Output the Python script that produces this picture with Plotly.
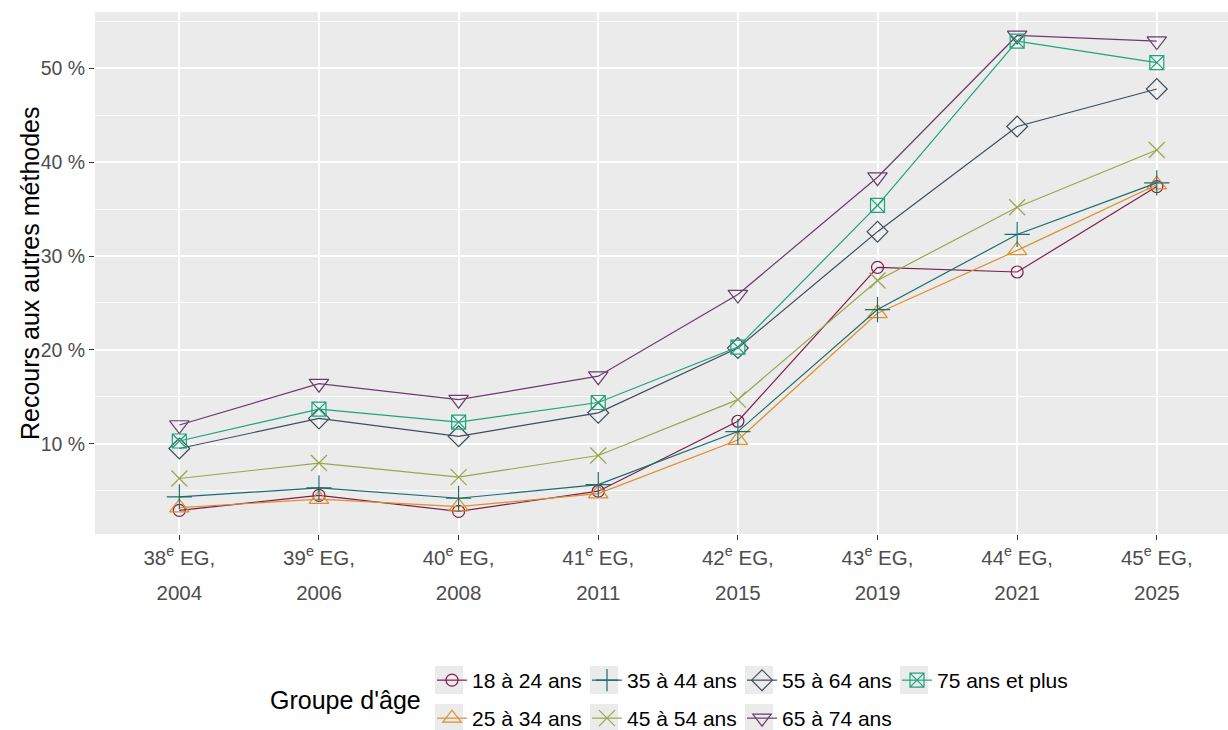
import plotly.graph_objects as go

# ---------------- data ----------------
waves = ["38<sup>e</sup> EG,", "39<sup>e</sup> EG,", "40<sup>e</sup> EG,", "41<sup>e</sup> EG,",
         "42<sup>e</sup> EG,", "43<sup>e</sup> EG,", "44<sup>e</sup> EG,", "45<sup>e</sup> EG,"]
years = ["2004", "2006", "2008", "2011", "2015", "2019", "2021", "2025"]

g18_24 = [2.9, 4.5, 2.8, 4.95, 12.4, 28.8, 28.3, 37.4]
g25_34 = [3.2, 4.1, 3.3, 4.7, 10.4, 23.9, 30.6, 37.6]
g35_44 = [4.35, 5.3, 4.2, 5.65, 11.3, 24.3, 32.3, 37.8]
g45_54 = [6.3, 7.95, 6.45, 8.75, 14.7, 27.4, 35.2, 41.3]
g55_64 = [9.5, 12.7, 10.8, 13.3, 20.2, 32.6, 43.8, 47.8]
g65_74 = [12.0, 16.4, 14.7, 17.2, 25.9, 38.4, 53.5, 52.9]
g75p = [10.3, 13.7, 12.3, 14.4, 20.3, 35.4, 52.9, 50.6]

names = ["18 à 24 ans", "25 à 34 ans", "35 à 44 ans", "45 à 54 ans",
         "55 à 64 ans", "65 à 74 ans", "75 ans et plus"]
series = [g18_24, g25_34, g35_44, g45_54, g55_64, g65_74, g75p]
colors = ["#7D1D4C", "#DB8F2E", "#1A6D6C", "#9AA64C", "#3D4D5C", "#6C3B6D", "#1CA47A"]
symbols = ["circle-open", "triangle-up-open", "cross-thin-open", "x-thin-open",
           "diamond-open", "triangle-down-open", "square-x-open"]
sizes = [12, 17, 18, 16, 16, 17, 14]
legend_row = ["legend", "legend2", "legend", "legend2", "legend", "legend2", "legend3"]

xpos = list(range(len(years)))

fig = go.Figure()
for name, vals, col, sym, sz, lg in zip(names, series, colors, symbols, sizes, legend_row):
    fig.add_trace(go.Scatter(
        x=xpos, y=vals, name=name, mode="lines+markers",
        line=dict(color=col, width=1.2),
        marker=dict(symbol=sym, size=sz, color=col, line=dict(color=col, width=1.2)),
        legend=lg,
    ))

# empty helper trace so the second (year) label axis is drawn
fig.add_trace(go.Scatter(x=xpos, y=[None] * len(xpos), xaxis="x2", yaxis="y",
                         showlegend=False, hoverinfo="skip", mode="lines"))

W, H = 1228, 730
ml, mr, mt, mb = 95, 0, 12, 196
pw, ph = W - ml - mr, H - mt - mb


def px_x(p):
    return (p - ml) / pw


def px_y(p):
    return (mt + ph - p) / ph


FONT = "Liberation Sans, Arial, sans-serif"
xaxis_font = dict(family=FONT, size=20.5, color="#4D4D4D")
yaxis_font = dict(family=FONT, size=19.5, color="#4D4D4D")
legend_font = dict(family=FONT, size=21, color="black")

# grey legend key backgrounds (ggplot style)
col_step = 155
key_x0 = 449
key_shapes = []
for row_c, n_items in ((680, 4), (718, 3)):
    for k in range(n_items):
        cx = key_x0 + k * col_step
        key_shapes.append(dict(
            type="rect", xref="paper", yref="paper",
            x0=px_x(cx - 14), x1=px_x(cx + 14),
            y0=px_y(row_c + 14), y1=px_y(row_c - 14),
            fillcolor="#EBEBEB", line=dict(width=0), layer="below",
        ))


def legend_box(x_left, top):
    return dict(
        orientation="h", x=px_x(x_left), xanchor="left",
        y=px_y(top), yanchor="top",
        entrywidth=col_step - 45, entrywidthmode="pixels",
        font=legend_font, bgcolor="rgba(0,0,0,0)",
        traceorder="normal", itemwidth=30,
    )


leg3 = legend_box(key_x0 + 3 * col_step - 17, 660)
leg3["entrywidth"] = 0

fig.update_layout(
    width=W, height=H,
    margin=dict(l=ml, r=mr, t=mt, b=mb, autoexpand=False),
    paper_bgcolor="white",
    plot_bgcolor="#EBEBEB",
    font=dict(family=FONT, color="black"),
    xaxis=dict(
        range=[-0.604, 7.51], tickmode="array", tickvals=xpos, ticktext=waves,
        showgrid=True, gridcolor="white", gridwidth=2, zeroline=False,
        ticks="outside", ticklen=5, tickcolor="#333333", tickwidth=1,
        tickfont=xaxis_font, showline=False,
    ),
    xaxis2=dict(
        range=[-0.604, 7.51], tickmode="array", tickvals=xpos, ticktext=years,
        overlaying="x", anchor="y", side="bottom",
        showgrid=False, zeroline=False, ticks="", showline=False,
        tickfont=xaxis_font, ticklabelstandoff=44,
    ),
    yaxis=dict(
        range=[0.39, 56.0], tick0=0, dtick=10, ticksuffix=" %",
        showgrid=True, gridcolor="white", gridwidth=2, zeroline=False,
        ticks="outside", ticklen=5, tickcolor="#333333", tickwidth=1,
        tickfont=yaxis_font,
        minor=dict(tick0=0, dtick=5, showgrid=True, gridcolor="white", gridwidth=1, ticks=""),
    ),
    legend=legend_box(key_x0 - 17, 660),
    legend2=legend_box(key_x0 - 17, 698),
    legend3=leg3,
    shapes=key_shapes,
    annotations=[
        dict(text="Groupe d'âge", xref="paper", yref="paper",
             x=px_x(423), xanchor="right", y=px_y(700), yanchor="middle",
             showarrow=False, font=dict(family=FONT, size=25, color="black")),
        dict(text="Recours aux autres méthodes", xref="paper", yref="paper",
             x=px_x(30), xanchor="center", y=0.5, yanchor="middle", textangle=-90,
             showarrow=False, font=dict(family=FONT, size=25, color="black")),
    ],
)

fig.write_html("out.html", post_script="document.body.style.margin='0';",
               config={"displayModeBar": False})
